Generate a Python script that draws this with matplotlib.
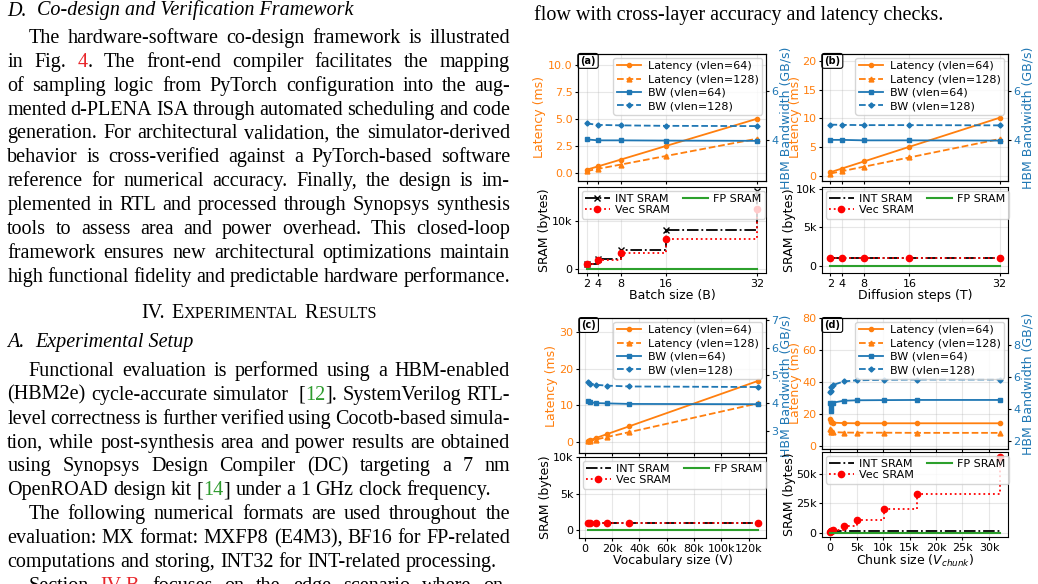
"""Page snippet: co-design text column plus the four-panel latency / SRAM sweep figure."""

import re

import matplotlib
matplotlib.use("Agg")
import matplotlib.pyplot as plt
from matplotlib.ticker import FuncFormatter, MultipleLocator

W, H = 1038, 584
ORANGE = "#ff7f0e"
BLUE = "#1f77b4"
SERIF = "Liberation Serif"
BODY = 14.5
LINK = {"r": "#e8262b", "g": "#2e9b2e"}

# ---- panel (a): batch size sweep
batch = [2, 4, 8, 16, 32]
lat64_a = [0.32, 0.63, 1.26, 2.53, 5.05]
lat128_a = [0.20, 0.40, 0.80, 1.60, 3.20]
bw64_a = [4.02, 3.98, 3.98, 3.97, 3.96]
bw128_a = [4.68, 4.62, 4.60, 4.58, 4.57]
int_a = [1024, 2048, 4096, 8192, 16384]
vec_a = [1024, 1920, 3328, 6400, 12544]
fp_a = [0, 0, 0, 0, 0]

# ---- panel (b): diffusion steps sweep
steps = [2, 4, 8, 16, 32]
lat64_b = [0.63, 1.26, 2.52, 5.05, 10.1]
lat128_b = [0.40, 0.80, 1.60, 3.20, 6.40]
bw64_b = [4.00, 4.00, 3.98, 3.98, 3.97]
bw128_b = [4.63, 4.62, 4.61, 4.61, 4.60]
int_b = [1024, 1024, 1024, 1024, 1024]
vec_b = [1024, 1024, 1024, 1024, 1024]
fp_b = [0, 0, 0, 0, 0]

# ---- panel (c): vocabulary size sweep
vocab = [2048, 4096, 8192, 16384, 32768, 126464]
lat64_c = [0.27, 0.54, 1.08, 2.16, 4.30, 16.6]
lat128_c = [0.17, 0.34, 0.68, 1.36, 2.70, 10.5]
bw64_c = [4.07, 4.03, 4.00, 3.99, 3.97, 3.96]
bw128_c = [4.75, 4.70, 4.66, 4.63, 4.60, 4.58]
int_c = [1024, 1024, 1024, 1024, 1024, 1024]
vec_c = [1024, 1024, 1024, 1024, 1024, 1024]
fp_c = [0, 0, 0, 0, 0, 0]

# ---- panel (d): chunk size sweep
chunk = [64, 128, 256, 512, 2560, 5120, 10240, 16384, 32000]
lat64_d = [16.5, 15.5, 14.8, 14.5, 14.2, 14.1, 14.1, 14.1, 14.1]
lat128_d = [10.8, 9.6, 8.9, 8.6, 8.3, 8.2, 8.2, 8.1, 8.1]
bw64_d = [4.35, 3.85, 4.15, 4.40, 4.52, 4.55, 4.56, 4.57, 4.57]
bw128_d = [5.05, 5.10, 5.40, 5.50, 5.73, 5.80, 5.83, 5.85, 5.85]
int_d = [1024, 1024, 1024, 1024, 1024, 1024, 1024, 1024, 1024]
vec_d = [1000, 1300, 1600, 2200, 6000, 10800, 20600, 32800, 64300]
fp_d = [0, 0, 0, 0, 0, 0, 0, 0, 0]

# ---- page text
heading_d = ("D.", "Co-design and Verification Framework")
para_1 = [
    "The hardware-software co-design framework is illustrated",
    "in Fig. <r>4</>. The front-end compiler facilitates the mapping",
    "of sampling logic from PyTorch configuration into the aug-",
    "mented d-PLENA ISA through automated scheduling and code",
    "generation. For architectural validation, the simulator-derived",
    "behavior is cross-verified against a PyTorch-based software",
    "reference for numerical accuracy. Finally, the design is im-",
    "plemented in RTL and processed through Synopsys synthesis",
    "tools to assess area and power overhead. This closed-loop",
    "framework ensures new architectural optimizations maintain",
    "high functional fidelity and predictable hardware performance.",
]
heading_a = ("A.", "Experimental Setup")
para_2 = [
    "Functional evaluation is performed using a HBM-enabled",
    "(HBM2e) cycle-accurate simulator  [<g>12</>]. SystemVerilog RTL-",
    "level correctness is further verified using Cocotb-based simula-",
    "tion, while post-synthesis area and power results are obtained",
    "using Synopsys Design Compiler (DC) targeting a 7 nm",
    "OpenROAD design kit [<g>14</>] under a 1 GHz clock frequency.",
]
para_3 = [
    "The following numerical formats are used throughout the",
    "evaluation: MX format: MXFP8 (E4M3), BF16 for FP-related",
    "computations and storing, INT32 for INT-related processing.",
]
para_4 = ["Section <r>IV-B</> focuses on the edge scenario where on-"]
caption_tail = "flow with cross-layer accuracy and latency checks."


def box(x0, y0, x1, y1):
    return [x0 / W, 1 - y1 / H, (x1 - x0) / W, (y1 - y0) / H]


fig = plt.figure(figsize=(W / 100, H / 100), dpi=100)
tax = fig.add_axes([0, 0, 1, 1])
tax.set_xlim(0, W)
tax.set_ylim(H, 0)
tax.axis("off")
renderer = fig.canvas.get_renderer()


def width(t):
    return t.get_window_extent(renderer=renderer).width


def parse(word):
    out = []
    for p in re.split(r"(<[rg]>.*?</>)", word):
        if not p:
            continue
        m = re.fullmatch(r"<([rg])>(.*?)</>", p)
        out.append((m.group(2), LINK[m.group(1)]) if m else (p, "black"))
    return out


def put(s, y, color="black", size=BODY, style="normal"):
    return tax.text(0, y, s, color=color, fontsize=size, family=SERIF,
                    style=style, va="baseline", ha="left")


tx = put("x", -50)
txx = put("x x", -50)
SPACE = width(txx) - 2 * width(tx)


def draw_line(text, y, x0, x1, justify=True):
    items = []
    for w in text.split(" "):
        segs = [(t, width(t)) for t in (put(s, y, c) for s, c in parse(w))]
        items.append(segs)
    sizes = [sum(wd for _, wd in segs) for segs in items]
    gap = (x1 - x0 - sum(sizes)) / (len(items) - 1) if justify else SPACE
    x = x0
    for segs, sz in zip(items, sizes):
        xx = x
        for t, wd in segs:
            t.set_x(xx)
            xx += wd
        x += sz + gap


def draw_para(lines, y0, last_justified=False, indent=True):
    for i, line in enumerate(lines):
        x0 = 28.3 if (i == 0 and indent) else 7.3
        last = i == len(lines) - 1
        draw_line(line, y0 + i * 23.87, x0, 510, justify=(not last) or last_justified)


t = put(heading_d[0], 15.5, style="italic")
t.set_x(7.3)
t = put(heading_d[1], 15.5, style="italic")
t.set_x(37)
draw_para(para_1, 43, last_justified=True)

# small-caps section title
parts = [[("IV.", BODY)], [("E", BODY), ("XPERIMENTAL", 11.7)], [("R", BODY), ("ESULTS", 11.7)]]
made = []
for word in parts:
    made.append([(lambda tt: (tt, width(tt)))(put(s, 318.3, size=sz)) for s, sz in word])
gap = SPACE * 1.4
total = sum(wd for w in made for _, wd in w) + gap * (len(made) - 1)
x = 259 - total / 2
for w in made:
    for tt, wd in w:
        tt.set_x(x)
        x += wd
    x += gap

t = put(heading_a[0], 346.7, style="italic")
t.set_x(7.3)
t = put(heading_a[1], 346.7, style="italic")
t.set_x(35)
draw_para(para_2, 376)
draw_para(para_3, 376 + 6 * 23.87)
draw_para(para_4, 376 + 9 * 23.87, last_justified=True)
t = put(caption_tail, 20)
t.set_x(534)


def kfmt(v, _):
    return "0" if v == 0 else f"{v / 1000:g}k"


panels = [
    dict(top=box(578, 54, 766, 181), bot=box(578, 187, 766, 273), tag="(a)",
         x=batch, lat=(lat64_a, lat128_a), bw=(bw64_a, bw128_a), sram=(int_a, vec_a, fp_a),
         ylim_l=(-0.72, 11.03), loc_l=2.5, ylim_r=(2.3, 7.55), loc_r=2,
         ylim_s=None, loc_s=10000, xlabel="Batch size (B)", marker="x", pad_l=1),
    dict(top=box(822, 54, 1008, 181), bot=box(822, 187, 1008, 273), tag="(b)",
         x=steps, lat=(lat64_b, lat128_b), bw=(bw64_b, bw128_b), sram=(int_b, vec_b, fp_b),
         ylim_l=(-0.9, 21.2), loc_l=5, ylim_r=(2.3, 7.55), loc_r=2,
         ylim_s=(-950, 10250), loc_s=5000, xlabel="Diffusion steps (T)", marker=None, pad_l=0),
    dict(top=box(579, 318, 766, 453), bot=box(579, 457, 766, 538), tag="(c)",
         x=vocab, lat=(lat64_c, lat128_c), bw=(bw64_c, bw128_c), sram=(int_c, vec_c, fp_c),
         ylim_l=(-3.0, 33.8), loc_l=10, ylim_r=(2.2, 7.07), loc_r=1,
         ylim_s=(-1100, 10050), loc_s=5000, xlabel="Vocabulary size (V)", marker=None,
         xloc=20000, pad_l=1),
    dict(top=box(822, 318, 1008, 449), bot=box(822, 452, 1008, 537), tag="(d)",
         x=chunk, lat=(lat64_d, lat128_d), bw=(bw64_d, bw128_d), sram=(int_d, vec_d, fp_d),
         ylim_l=(-2, 80), loc_l=20, ylim_r=(1.5, 9.7), loc_r=2,
         ylim_s=(-3700, 69000), loc_s=25000, xlabel="Chunk size ($V_{chunk}$)", marker=None,
         xloc=5000, pad_l=0),
]

TICKS = dict(length=2.5, pad=1.5, labelsize=8)
LABEL = 9

for p in panels:
    ax = fig.add_axes(p["top"])
    axs = fig.add_axes(p["bot"], sharex=ax)
    x = p["x"]

    ax.plot(x, p["lat"][0], "-", color=ORANGE, marker="o", ms=3, lw=1.3, label="Latency (vlen=64)")
    ax.plot(x, p["lat"][1], "--", color=ORANGE, marker="^", ms=3.5, lw=1.3, label="Latency (vlen=128)")
    ax.set_ylim(*p["ylim_l"])
    ax.yaxis.set_major_locator(MultipleLocator(p["loc_l"]))
    ax.tick_params(**TICKS)
    ax.tick_params(axis="y", labelcolor=ORANGE)
    ax.tick_params(axis="x", labelbottom=False)
    ax.set_ylabel("Latency (ms)", color=ORANGE, fontsize=LABEL, labelpad=p["pad_l"])
    ax.grid(True, alpha=0.3)

    ax2 = ax.twinx()
    ax2.plot(x, p["bw"][0], "-", color=BLUE, marker="s", ms=3, lw=1.3, label="BW (vlen=64)")
    ax2.plot(x, p["bw"][1], "--", color=BLUE, marker="D", ms=2.6, lw=1.3, label="BW (vlen=128)")
    ax2.set_ylim(*p["ylim_r"])
    ax2.yaxis.set_major_locator(MultipleLocator(p["loc_r"]))
    ax2.tick_params(**TICKS)
    ax2.tick_params(axis="y", labelcolor=BLUE)
    ax2.set_ylabel("HBM Bandwidth (GB/s)", color=BLUE, fontsize=LABEL, labelpad=0.5)
    h1, l1 = ax.get_legend_handles_labels()
    h2, l2 = ax2.get_legend_handles_labels()
    ax2.legend(h1 + h2, l1 + l2, loc="upper right", fontsize=8, labelspacing=0.3,
               borderpad=0.3, borderaxespad=0.35, handlelength=2.2, handletextpad=0.6)

    ax.text(0.012, 0.985, p["tag"], transform=ax.transAxes, ha="left", va="top",
            fontsize=7, fontweight="bold", zorder=10,
            bbox=dict(boxstyle="round,pad=0.25", fc="white", ec="black", lw=0.8))

    int_s, vec_s, fp_s = p["sram"]
    axs.plot(x, int_s, "-.", color="black", marker=p["marker"], ms=5, lw=1.3,
             drawstyle="steps-post", label="INT SRAM")
    axs.plot(x, vec_s, ":", color="red", marker="o", ms=4.5, lw=1.3,
             drawstyle="steps-post", label="Vec SRAM")
    axs.plot(x, fp_s, "-", color="tab:green", lw=1.5, label="FP SRAM")
    if p["ylim_s"]:
        axs.set_ylim(*p["ylim_s"])
    axs.yaxis.set_major_locator(MultipleLocator(p["loc_s"]))
    axs.yaxis.set_major_formatter(FuncFormatter(kfmt))
    axs.tick_params(**TICKS)
    axs.set_ylabel("SRAM (bytes)", fontsize=LABEL, labelpad=p["pad_l"])
    axs.set_xlabel(p["xlabel"], fontsize=LABEL, labelpad=0.5)
    axs.grid(True, alpha=0.3)
    axs.legend(loc="upper left", ncol=2, fontsize=8, labelspacing=0.1, borderpad=0.3,
               borderaxespad=0.35, handlelength=2.2, handletextpad=0.5, columnspacing=1.2)

    if "xloc" in p:
        axs.xaxis.set_major_locator(MultipleLocator(p["xloc"]))
        axs.xaxis.set_major_formatter(FuncFormatter(kfmt))
    else:
        axs.set_xticks(x)

fig.savefig("out.png", dpi=100)
